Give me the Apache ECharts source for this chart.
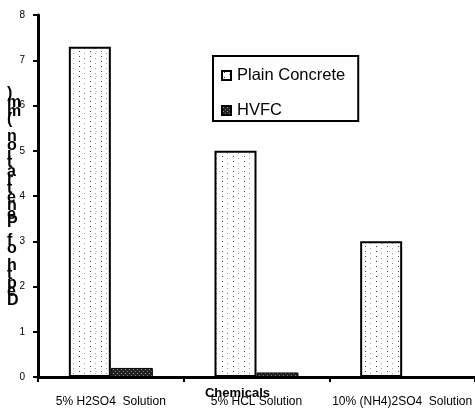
<!DOCTYPE html>
<html><head><meta charset="utf-8">
<script src="https://cdn.jsdelivr.net/npm/echarts@6/dist/echarts.min.js"></script>
<style>html,body{margin:0;padding:0;background:#fff}#c{width:475px;height:412px}</style>
</head><body><div id="c"></div>
<script>
var categories = ['5% H2SO4  Solution', '5% HCL Solution', '10% (NH4)2SO4  Solution'];
var plainConcrete = [7.3, 5.0, 3.0];
var hvfc = [0.2, 0.1, 0];
var seriesNames = ['Plain Concrete', 'HVFC'];
var yTitle = 'Depth of Penetration (mm)';
var xTitle = 'Chemicals';

function makePattern(bg, dots, w, h) {
  var c = document.createElement('canvas');
  c.width = w; c.height = h;
  var g = c.getContext('2d');
  g.fillStyle = bg; g.fillRect(0, 0, w, h);
  dots.forEach(function (d) { g.fillStyle = d[2]; g.fillRect(d[0], d[1], 1, 1); });
  return c;
}
var plainPat = makePattern('#ffffff', [[2,1,'#444'],[2,6,'#444'],[7,3,'#999'],[7,8,'#999']], 11, 10);
var hvfcPat = makePattern('#222222', [[1,1,'#999'],[3,3,'#777']], 4, 4);

var chart = echarts.init(document.getElementById('c'));
chart.setOption({
  animation: false,
  grid: { left: 38, right: -3, top: 15, bottom: 35 },
  legend: {
    orient: 'vertical', left: 213, top: 56,
    borderColor: '#000', borderWidth: 2,
    padding: [11, 13, 2, 8], itemGap: 18,
    itemWidth: 9, itemHeight: 9, icon: 'rect',
    textStyle: { fontFamily: 'Liberation Sans, Arial', fontSize: 16.5, color: '#000', padding: [0,0,0,1] },
    data: seriesNames
  },
  xAxis: {
    type: 'category', data: categories,
    axisLine: { lineStyle: { color: '#000', width: 3 } },
    axisTick: { show: true, length: 5, lineStyle: { color: '#000', width: 2 } },
    axisLabel: { interval: 0, color: '#000', fontFamily: 'Liberation Sans, Arial', fontSize: 12, margin: 19 }
  },
  yAxis: {
    type: 'value', min: 0, max: 8, interval: 1,
    splitLine: { show: false },
    axisLine: { show: true, lineStyle: { color: '#000', width: 3 } },
    axisTick: { show: true, length: 5, lineStyle: { color: '#000', width: 2 } },
    axisLabel: { color: '#000', fontFamily: 'Liberation Sans, Arial', fontSize: 10, margin: 13 }
  },
  graphic: [
    { type: 'text', left: 'center', top: 387,
      style: { text: xTitle, fontFamily: 'Liberation Sans, Arial', fontWeight: 'bold', fontSize: 13, fill: '#000' } },
    { type: 'text', left: 7, top: 86,
      style: { text: yTitle.split('').reverse().join('\n'), fontFamily: 'Liberation Sans, Arial', fontWeight: 'bold',
        fontSize: 16, lineHeight: 8.6, align: 'center', fill: '#000', width: 16 } }
  ],
  series: [
    { name: seriesNames[0], type: 'bar', data: plainConcrete, barWidth: 42, barGap: '0%',
      itemStyle: { color: { image: plainPat, repeat: 'repeat' }, borderColor: '#000', borderWidth: 2 } },
    { name: seriesNames[1], type: 'bar', data: hvfc, barWidth: 42,
      itemStyle: { color: { image: hvfcPat, repeat: 'repeat' }, borderColor: '#000', borderWidth: 1 } }
  ]
});
</script></body></html>
